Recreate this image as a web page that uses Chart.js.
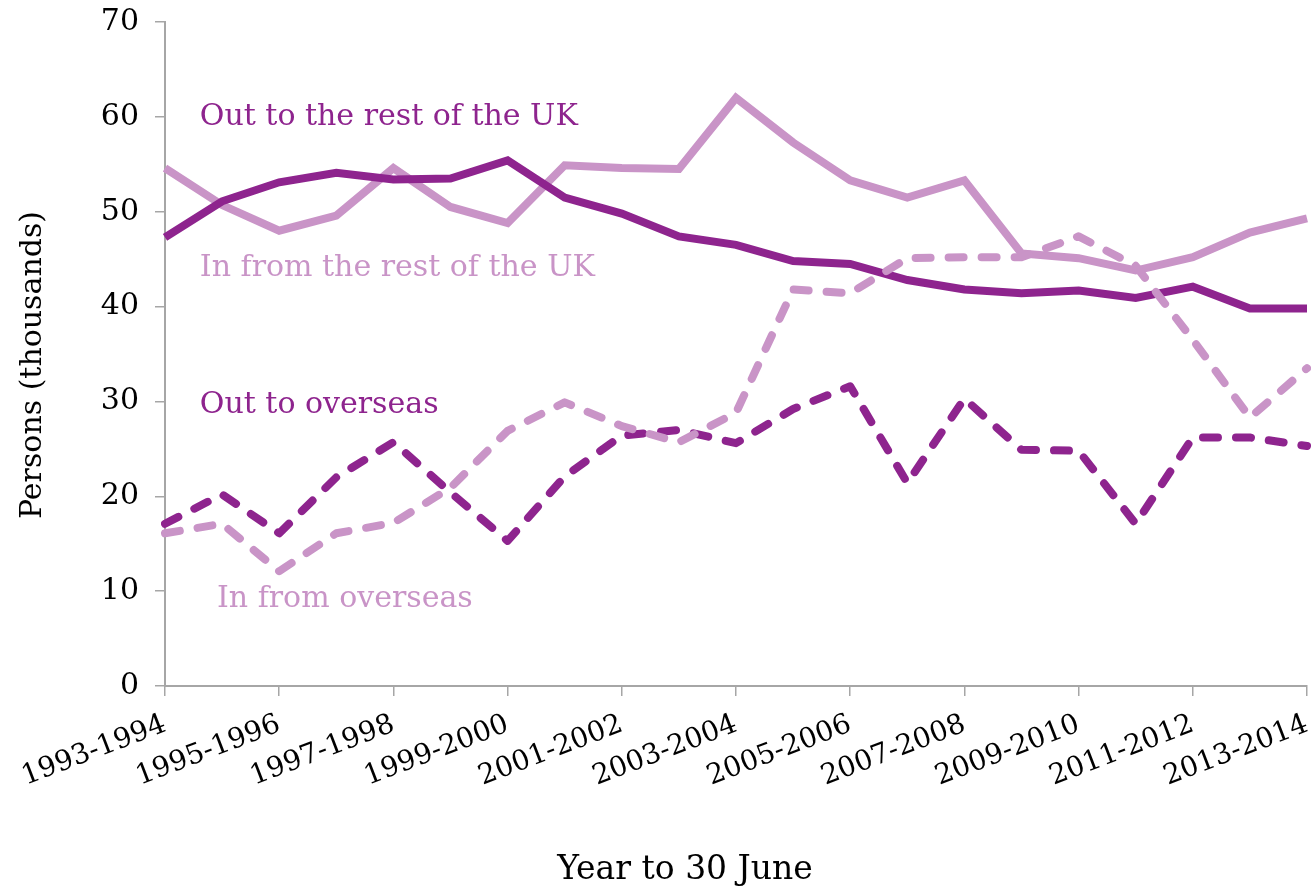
<!DOCTYPE html>
<html>
<head>
<meta charset="utf-8">
<script src="https://cdn.jsdelivr.net/npm/chart.js@4.4.1/dist/chart.umd.min.js"></script>
<style>
  html, body { margin: 0; padding: 0; background: #ffffff; }
  #wrap { width: 1316px; height: 889px; }
</style>
</head>
<body>
<div id="wrap"><canvas id="c" width="1316" height="889"></canvas></div>
<script>
const categories = ["1993-1994","1994-1995","1995-1996","1996-1997","1997-1998","1998-1999","1999-2000",
  "2000-2001","2001-2002","2002-2003","2003-2004","2004-2005","2005-2006","2006-2007","2007-2008",
  "2008-2009","2009-2010","2010-2011","2011-2012","2012-2013","2013-2014"];
const outToRestOfUK   = [47.3, 51.1, 53.1, 54.1, 53.4, 53.5, 55.4, 51.5, 49.8, 47.4, 46.5, 44.8, 44.5, 42.8, 41.8, 41.4, 41.7, 40.9, 42.1, 39.8, 39.8];
const inFromRestOfUK  = [54.6, 50.7, 48.0, 49.6, 54.6, 50.5, 48.8, 54.9, 54.6, 54.5, 62.0, 57.3, 53.3, 51.5, 53.3, 45.6, 45.1, 43.8, 45.2, 47.8, 49.3];
const outToOverseas   = [17.1, 20.2, 16.1, 22.0, 25.7, 20.4, 15.3, 22.1, 26.4, 27.0, 25.6, 29.2, 31.6, 21.4, 30.3, 24.9, 24.8, 17.1, 26.2, 26.2, 25.3];
const inFromOverseas  = [16.1, 17.1, 12.1, 16.1, 17.2, 20.9, 26.9, 29.9, 27.4, 25.7, 28.8, 41.8, 41.4, 45.1, 45.2, 45.2, 47.4, 44.3, 36.5, 28.3, 33.5];
const yTicks = [0, 10, 20, 30, 40, 50, 60, 70];

const DARK = '#8e248e';
const LIGHT = '#c994c7';
const SERIF = '"DejaVu Serif", serif';

const annotations = {
  id: 'annotations',
  afterDraw(chart) {
    const { ctx, scales: { x, y } } = chart;
    ctx.save();
    ctx.textBaseline = 'middle';
    ctx.textAlign = 'left';
    ctx.font = '30px ' + SERIF;
    const items = [
      { text: 'Out to the rest of the UK', color: DARK, xv: 0.61, yv: 60.0 },
      { text: 'In from the rest of the UK', color: LIGHT, xv: 0.61, yv: 44.0 },
      { text: 'Out to overseas', color: DARK, xv: 0.61, yv: 29.6 },
      { text: 'In from overseas', color: LIGHT, xv: 0.91, yv: 9.1 }
    ];
    items.forEach(it => {
      ctx.fillStyle = it.color;
      ctx.fillText(it.text, x.getPixelForValue(it.xv), y.getPixelForValue(it.yv));
    });
    ctx.fillStyle = '#000';
    ctx.textAlign = 'center';
    ctx.font = '33px ' + SERIF;
    ctx.fillText('Year to 30 June', 685, 870);
    ctx.font = '30px ' + SERIF;
    ctx.translate(33, 365);
    ctx.rotate(-Math.PI / 2);
    ctx.fillText('Persons (thousands)', 0, 0);
    ctx.restore();
  }
};

function ds(label, data, color, dashed) {
  return {
    label, data,
    borderColor: color,
    backgroundColor: color,
    borderWidth: 8,
    pointRadius: 0,
    pointHoverRadius: 0,
    tension: 0,
    fill: false,
    borderDash: dashed ? [15, 18] : [],
    borderCapStyle: dashed ? 'round' : 'butt',
    borderJoinStyle: dashed ? 'round' : 'miter'
  };
}

new Chart(document.getElementById('c'), {
  type: 'line',
  data: {
    labels: categories,
    datasets: [
      ds('In from overseas', inFromOverseas, LIGHT, true),
      ds('Out to the rest of the UK', outToRestOfUK, DARK, false),
      ds('Out to overseas', outToOverseas, DARK, true),
      ds('In from the rest of the UK', inFromRestOfUK, LIGHT, false)
    ]
  },
  options: {
    responsive: false,
    animation: false,
    devicePixelRatio: 1,
    layout: { padding: { top: 22, right: 9, left: 0, bottom: 0 } },
    plugins: { legend: { display: false }, tooltip: { enabled: false } },
    scales: {
      x: {
        type: 'category',
        offset: false,
        grid: { display: true, drawOnChartArea: false, drawTicks: true, tickLength: 10, color: '#a6a6a6', lineWidth: 1.5 },
        border: { display: true, color: '#a6a6a6', width: 2 },
        ticks: { autoSkip: false, maxRotation: 21, minRotation: 21, padding: 12, color: '#000', font: { family: SERIF, size: 28 } },
        afterBuildTicks: s => { s.ticks = s.ticks.filter((t, i) => i % 2 === 0); },
        afterFit: s => { s.height = 203; s.paddingLeft = 0; s.paddingRight = 0; }
      },
      y: {
        min: 0, max: 70,
        grid: { display: true, drawOnChartArea: false, drawTicks: true, tickLength: 10, color: '#a6a6a6', lineWidth: 1.5 },
        border: { display: true, color: '#a6a6a6', width: 2 },
        ticks: { stepSize: 10, padding: 16, color: '#000', font: { family: SERIF, size: 30 } },
        afterBuildTicks: s => { s.ticks = yTicks.map(v => ({ value: v })); },
        afterFit: s => { s.width = 165; s.paddingTop = 0; s.paddingBottom = 0; }
      }
    }
  },
  plugins: [annotations]
});
</script>
</body>
</html>
